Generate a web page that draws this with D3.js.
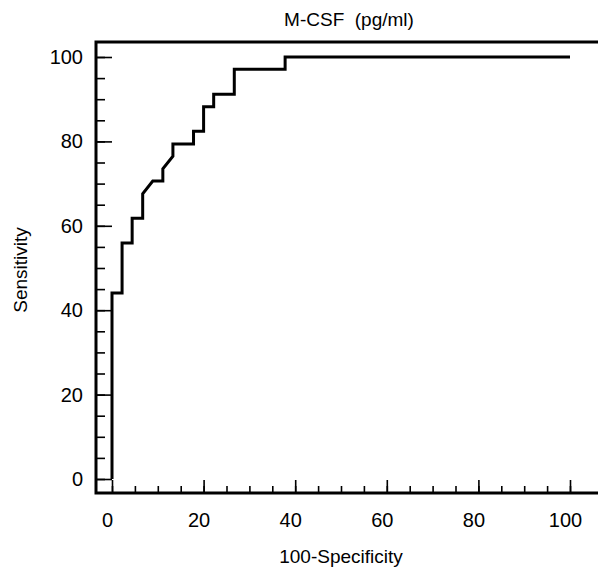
<!DOCTYPE html>
<html><head><meta charset="utf-8">
<script src="https://cdn.jsdelivr.net/npm/d3@7"></script>
<style>body{margin:0;background:#fff}svg text{font-family:"Liberation Sans",Arial,sans-serif;fill:#000}</style>
</head><body>
<svg id="c" width="598" height="575"></svg>
<script>
// ROC curve: 100-Specificity (x) and Sensitivity (y), in %
const fpr = [0, 0, 2.2, 2.2, 4.4, 4.4, 6.7, 6.7, 8.9, 11.1, 11.1, 13.3, 13.3, 17.8, 17.8, 20.0, 20.0, 22.2, 22.2, 26.7, 26.7, 37.8, 37.8, 100];
const tpr = [0, 44.1, 44.1, 55.9, 55.9, 61.8, 61.8, 67.6, 70.6, 70.6, 73.5, 76.5, 79.4, 79.4, 82.4, 82.4, 88.2, 88.2, 91.2, 91.2, 97.1, 97.1, 100, 100];
const xTickLabels = [0, 20, 40, 60, 80, 100];
const yTickLabels = [0, 20, 40, 60, 80, 100];
const minorTicks = d3.range(0, 101, 5);
const title = "M-CSF  (pg/ml)";
const xTitle = "100-Specificity";
const yTitle = "Sensitivity";

const svg = d3.select("#c");
const x = d3.scaleLinear().domain([0, 100]).range([112, 570]);
const y = d3.scaleLinear().domain([0, 100]).range([479, 57]);
const L = 96, T = 42, B = 493, R = 600;

// minor ticks
svg.append("g").attr("transform", `translate(0,${B})`)
  .call(d3.axisBottom(x).tickValues(minorTicks).tickSize(-7).tickFormat(""))
  .call(g => g.select(".domain").remove());
svg.append("g").attr("transform", `translate(${L},0)`)
  .call(d3.axisLeft(y).tickValues(minorTicks).tickSize(-9).tickFormat(""))
  .call(g => g.select(".domain").remove());
// major ticks
const xa = svg.append("g").attr("transform", `translate(0,${B})`)
  .call(d3.axisBottom(x).tickValues(xTickLabels).tickSize(-13).tickPadding(20))
  .call(g => g.select(".domain").remove());
xa.selectAll("text").attr("font-size", 20).attr("dy", "0.71em").attr("dx", -5);
const ya = svg.append("g").attr("transform", `translate(${L},0)`)
  .call(d3.axisLeft(y).tickValues(yTickLabels).tickSize(-16).tickPadding(13))
  .call(g => g.select(".domain").remove());
ya.selectAll("text").attr("font-size", 20);
svg.selectAll(".tick line").attr("stroke", "#000").attr("stroke-width", 1.6);
svg.selectAll("g").attr("font-family", null);

// frame
svg.append("path").attr("d", `M${R},${T}H${L}V${B}H${R}`)
  .attr("fill", "none").attr("stroke", "#000").attr("stroke-width", 3);

// curve
const pts = fpr.map((v, i) => [v, tpr[i]]);
svg.append("path").datum(pts)
  .attr("d", d3.line().x(d => x(d[0])).y(d => y(d[1])))
  .attr("fill", "none").attr("stroke", "#000").attr("stroke-width", 3).attr("stroke-linejoin", "miter");

svg.append("text").attr("x", 349).attr("y", 26).attr("text-anchor", "middle")
  .attr("font-size", 19).style("white-space", "pre").text(title);
svg.append("text").attr("x", 341).attr("y", 563).attr("text-anchor", "middle")
  .attr("font-size", 19).text(xTitle);
svg.append("text").attr("transform", "translate(27,270) rotate(-90)").attr("text-anchor", "middle")
  .attr("font-size", 19).text(yTitle);
</script>
</body></html>
